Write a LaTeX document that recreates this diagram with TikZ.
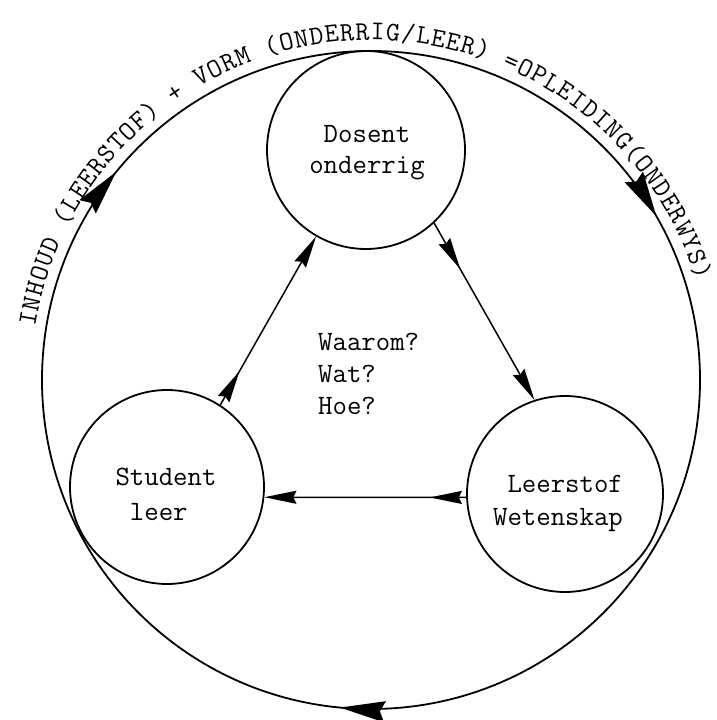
\documentclass[tikz,border=0pt]{standalone}
\usepackage{fontspec}
\usetikzlibrary{arrows.meta,decorations.markings,decorations.text}
\tikzset{
  smalltip/.tip={Stealth[length=32pt,width=13pt,inset=3pt]},
  bigtip/.tip={Stealth[length=45pt,width=21pt,inset=5pt]},
}
\newcommand{\twfont}[1]{\ttfamily\fontsize{28}{#1}\selectfont}
\newcommand{\arcfont}{\ttfamily\fontsize{27}{27}\selectfont}
\begin{document}
\begin{tikzpicture}[x=1pt,y=1pt,
  ring/.style={circle,draw,line width=1.8pt,inner sep=0pt},
  lbl/.style={align=left,inner sep=0pt,anchor=north},
  conn/.style={line width=1.5pt,-{smalltip}},
  firstarrow/.style={postaction={decorate},
     decoration={markings,mark=at position #1 with {\arrow{smalltip}}}},
  bigring/.style={line width=1.8pt,postaction={decorate},
     decoration={markings,
       mark=at position 0.109 with {\arrow{bigtip}},
       mark=at position 0.417 with {\arrow{bigtip}},
       mark=at position 0.765 with {\arrow{bigtip}}}},
]
\useasboundingbox (0,0) rectangle (716,720);

\coordinate (c) at (371,340);
% outer cycle
\draw[bigring] (c) ++(180:329) arc[start angle=180, end angle=-180, radius=329];
% curved title
\path[decorate, decoration={text along path,
   text={|\arcfont|INHOUD (LEERSTOF) + VORM (ONDERRIG/LEER) =OPLEIDING(ONDERWYS)},
   text align={fit to path}}]
   (c) ++(171:340) arc[start angle=171, end angle=17, radius=340];

% three circles
\node[ring, minimum size=198pt] (do) at (366,570) {};
\node[ring, minimum size=194pt] (st) at (167,233) {};
\node[ring, minimum size=196pt] (le) at (565,226) {};

% texts
\node[lbl, font=\twfont{31}] (doT) at (367,595) {\hphantom{D}Dosent\\onderrig};
\node[lbl, font=\twfont{35}] (stT) at (166,252) {Student\\\hphantom{S}leer};
\node[lbl, font=\twfont{33}] (leT) at (558,245) {\hphantom{W}Leerstof\\Wetenskap};
\node[lbl, anchor=north west, font=\twfont{32}] (q) at (318,387) {Waarom?\\Wat?\\Hoe?};

% connectors
\draw[conn, firstarrow=0.2] (st.57) -- (do.240);
\draw[conn, firstarrow=0.26] (do.-47) -- (le.108);
\draw[conn, firstarrow=0.18] (le.182) -- (st.-6);
\end{tikzpicture}
\end{document}
